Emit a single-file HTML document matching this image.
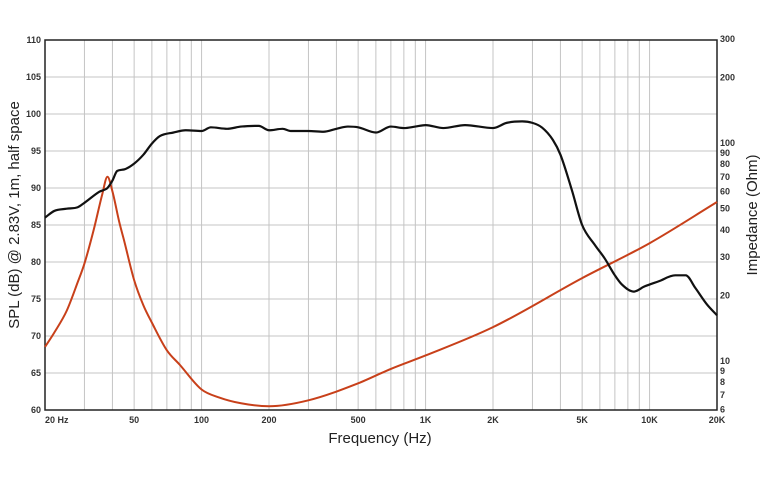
<!DOCTYPE html>
<html><head><meta charset="utf-8"><style>
body{margin:0;background:#fff;}
svg text{font-family:"Liberation Sans",sans-serif;}
</style></head><body>
<svg id="chart" width="767" height="484" xmlns="http://www.w3.org/2000/svg">
<g id="grid"></g>
<g id="ticks"></g>
<rect x="45" y="40" width="672" height="370" fill="none" stroke="#222" stroke-width="1.5"/>
<g id="series"></g>
<text transform="translate(19,215) rotate(-90)" text-anchor="middle" font-size="15" fill="#222">SPL (dB) @ 2.83V, 1m, half space</text>
<text transform="translate(757,215) rotate(-90)" text-anchor="middle" font-size="15" fill="#222">Impedance (Ohm)</text>
<text x="380" y="443" text-anchor="middle" font-size="15" fill="#222">Frequency (Hz)</text>
</svg>
<script>
const splFreq=[20,22,25,28,30,35,38,40,42,45,50,55,60,65,75,85,100,110,130,150,180,200,230,250,300,350,400,450,500,600,700,800,900,1000,1200,1500,2000,2300,2700,3000,3300,3700,4000,4500,5000,5700,6300,7000,7500,8500,9500,11000,13000,14500,16000,18000,20000];
const splDb=[86,86.9,87.2,87.4,88,89.5,90,91,92.3,92.5,93.3,94.5,96,97,97.5,97.8,97.7,98.2,98,98.3,98.4,97.8,98,97.7,97.7,97.6,98,98.3,98.2,97.5,98.3,98.1,98.3,98.5,98.1,98.5,98.1,98.8,99,98.8,98.2,96.5,94.5,89.7,85,82.3,80.5,78.2,77,76,76.7,77.4,78.2,78.2,76.5,74.3,72.8];
const impFreq=[20,22,25,28,30,33,36,38,40,43,45,50,55,60,70,80,100,120,150,200,300,500,700,1000,2000,5000,10000,20000];
const impOhm=[11.6,13.5,17,23,28,40,58,70,60,43,36,23.5,18,15,11.2,9.6,7.4,6.8,6.4,6.2,6.6,7.9,9.2,10.6,14.3,24,34.7,53.6];
const splTicks=[60,65,70,75,80,85,90,95,100,105,110];
const impTicks=[6,7,8,9,10,20,30,40,50,60,70,80,90,100,200,300];
const xTickVals=[20,50,100,200,500,1000,2000,5000,10000,20000];
const xTickLabels=["20  Hz","50","100","200","500","1K","2K","5K","10K","20K"];
const X0=45,X1=717,Y0=40,Y1=410;
const xs=f=>X0+(X1-X0)*Math.log10(f/20)/3;
const ys=d=>Y1-(d-60)/50*(Y1-Y0);
const yi=o=>361-218*Math.log10(o/10);
const NS="http://www.w3.org/2000/svg";
function mk(t,a,p){const e=document.createElementNS(NS,t);for(const k in a)e.setAttribute(k,a[k]);p.appendChild(e);return e;}
const grid=document.getElementById('grid'),ticks=document.getElementById('ticks'),ser=document.getElementById('series');
for(let dec=10;dec<=10000;dec*=10)for(let m=1;m<=9;m++){const f=dec*m;if(f<=20||f>=20000)continue;
const l=mk('line',{x1:xs(f),x2:xs(f),y1:Y0,y2:Y1,stroke:'#c4c4c4','stroke-width':1},grid);

}
splTicks.forEach(v=>{const l=mk('line',{x1:X0,x2:X1,y1:ys(v),y2:ys(v),stroke:'#c4c4c4','stroke-width':1},grid);


const t=mk('text',{x:41,y:ys(v)+3,'text-anchor':'end','font-size':9,'font-weight':'bold',fill:'#333'},ticks);t.textContent=v;

});
impTicks.forEach(v=>{const t=mk('text',{x:720,y:yi(v)+3,'font-size':9,'font-weight':'bold',fill:'#333'},ticks);t.textContent=v;

});
xTickVals.forEach((v,i)=>{const t=mk('text',{x:xs(v),y:423,'text-anchor':i==0?'start':'middle','font-size':9,'font-weight':'bold',fill:'#333','xml:space':'preserve'},ticks);t.textContent=xTickLabels[i];
if(i==0)t.setAttribute('x',X0);

});
// monotone cubic (Fritsch-Carlson) sampled path
function path(pts){const n=pts.length,d=[],m=[];
for(let i=0;i<n-1;i++)d.push((pts[i+1][1]-pts[i][1])/(pts[i+1][0]-pts[i][0]));
m[0]=d[0];m[n-1]=d[n-2];
for(let i=1;i<n-1;i++){m[i]=(d[i-1]*d[i]<=0)?0:(d[i-1]+d[i])/2;}
for(let i=0;i<n-1;i++){if(d[i]===0){m[i]=0;m[i+1]=0;continue;}const a=m[i]/d[i],b=m[i+1]/d[i],s=a*a+b*b;if(s>9){const t=3/Math.sqrt(s);m[i]=t*a*d[i];m[i+1]=t*b*d[i];}}
let s='M'+pts[0][0].toFixed(2)+','+pts[0][1].toFixed(2);
for(let i=0;i<n-1;i++){const h=pts[i+1][0]-pts[i][0];
s+=' C'+(pts[i][0]+h/3).toFixed(2)+','+(pts[i][1]+m[i]*h/3).toFixed(2)+' '+(pts[i+1][0]-h/3).toFixed(2)+','+(pts[i+1][1]-m[i+1]*h/3).toFixed(2)+' '+pts[i+1][0].toFixed(2)+','+pts[i+1][1].toFixed(2);}
return s;}
const ip=mk('path',{d:path(impFreq.map((f,i)=>[xs(f),yi(impOhm[i])])),fill:'none',stroke:'#c8401a','stroke-width':2},ser);


const sp=mk('path',{d:path(splFreq.map((f,i)=>[xs(f),ys(splDb[i])])),fill:'none',stroke:'#111','stroke-width':2.2},ser);


</script>
</body></html>
